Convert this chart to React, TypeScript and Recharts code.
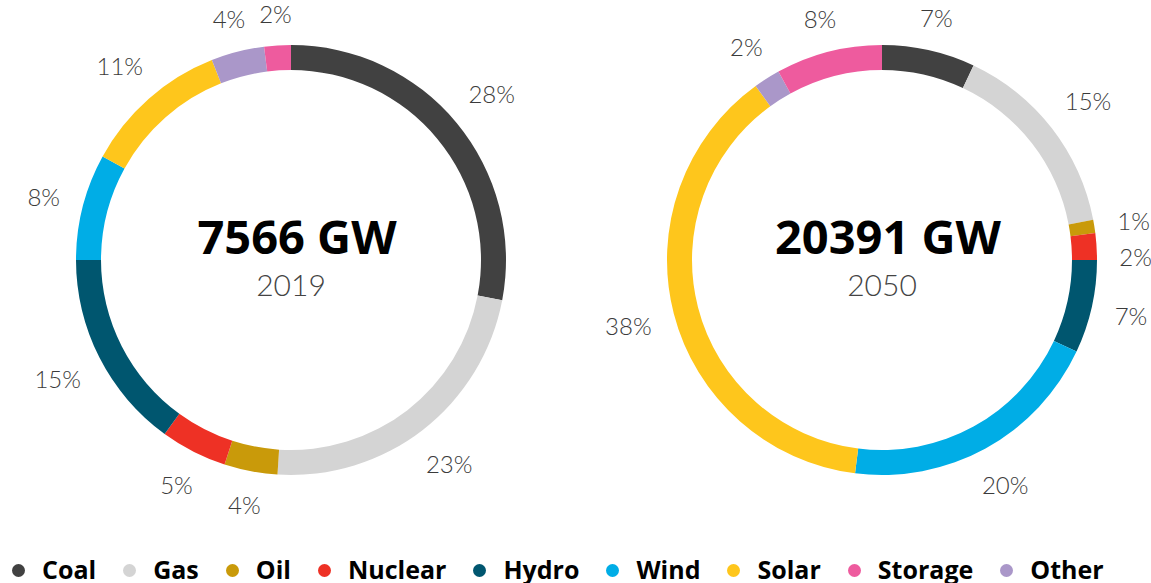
import { Pie, PieChart, Cell } from "recharts";

const sources = ["Coal", "Gas", "Oil", "Nuclear", "Hydro", "Wind", "Solar", "Other", "Storage"];
const legendOrder = ["Coal", "Gas", "Oil", "Nuclear", "Hydro", "Wind", "Solar", "Storage", "Other"];
const share2019 = [28, 23, 4, 5, 15, 8, 11, 4, 2];
const share2050 = [7, 15, 1, 2, 7, 20, 38, 2, 8];
const totals = [
  { capacity: "7566 GW", year: "2019" },
  { capacity: "20391 GW", year: "2050" }
];

const colors: Record<string, string> = {
  Coal: "#414141",
  Gas: "#d4d4d4",
  Oil: "#c99a0a",
  Nuclear: "#ee3125",
  Hydro: "#00566f",
  Wind: "#00ade6",
  Solar: "#fec61c",
  Storage: "#ee5b9e",
  Other: "#aa97c9"
};

const RAD = Math.PI / 180;
const W = 1151;
const H = 583;
const CY = 260;
const OUTER = 215;
const INNER = 190;
const LABEL_GAP = 22;
const LABEL_SIZE = 24;
const MIN_SEP = 36;

const toRows = (values: number[]) => sources.map((name, i) => ({ name, value: values[i] }));

// label offsets from the pie centre, pushed apart when two small slices sit side by side
function labelOffsets(values: number[]) {
  const total = values.reduce((a, b) => a + b, 0);
  let acc = 0;
  const pts = values.map((v) => {
    const mid = 90 - ((acc + v / 2) / total) * 360;
    acc += v;
    const c = Math.cos(mid * RAD);
    const s = -Math.sin(mid * RAD);
    const text = `${v}%`;
    const halfW = ((text.length - 1) * 0.57 + 0.82) * LABEL_SIZE / 2;
    const r = OUTER + LABEL_GAP + Math.abs(c) * halfW + Math.abs(s) * 8.5;
    return { dx: r * c, dy: r * s, text, halfW };
  });
  for (let i = 1; i < pts.length; i++) {
    const a = pts[i - 1];
    const b = pts[i];
    if (Math.abs(a.dx - b.dx) < a.halfW + b.halfW && Math.abs(a.dy - b.dy) < MIN_SEP) {
      b.dy = a.dy + (b.dx > 0 ? MIN_SEP : -MIN_SEP);
    }
  }
  return pts;
}

function makeLabel(values: number[]) {
  const pts = labelOffsets(values);
  return (props: any) => {
    const { cx, cy, index } = props;
    const p = pts[index];
    return (
      <text
        x={cx + p.dx}
        y={cy + p.dy}
        textAnchor="middle"
        dominantBaseline="central"
        fill="#3b3b3b"
        fontFamily="Lato, sans-serif"
        fontWeight={300}
        fontSize={LABEL_SIZE}
      >
        {p.text}
      </text>
    );
  };
}

export default function App() {
  const pies = [
    { cx: 291, values: share2019, ...totals[0] },
    { cx: 882, values: share2050, ...totals[1] }
  ];

  return (
    <div style={{ position: "absolute", left: 0, top: 0, width: W, height: H, background: "#fff", overflow: "hidden" }}>
      <PieChart width={W} height={H} margin={{ top: 0, right: 0, bottom: 0, left: 0 }}>
        {pies.map((p) => {
          const rows = toRows(p.values);
          return (
            <Pie
              key={p.year}
              data={rows}
              dataKey="value"
              nameKey="name"
              cx={p.cx}
              cy={CY}
              innerRadius={INNER}
              outerRadius={OUTER}
              startAngle={90}
              endAngle={-270}
              stroke="none"
              label={makeLabel(p.values)}
              labelLine={false}
              isAnimationActive={false}
            >
              {rows.map((row) => (
                <Cell key={row.name} fill={colors[row.name]} />
              ))}
            </Pie>
          );
        })}
        {pies.map((p) => (
          <g key={`c-${p.year}`}>
            <text x={p.cx + 6} y={254} textAnchor="middle" fontFamily="'Open Sans', sans-serif" fontWeight={700} fontSize={47} fill="#000">
              {p.capacity}
            </text>
            <text x={p.cx} y={296} textAnchor="middle" fontFamily="Lato, sans-serif" fontWeight={300} fontSize={30} fill="#444">
              {p.year}
            </text>
          </g>
        ))}
      </PieChart>
      <div
        style={{
          position: "absolute",
          left: 12,
          top: 552,
          display: "flex",
          alignItems: "center",
          fontFamily: "'Open Sans', sans-serif",
          fontWeight: 700,
          fontSize: 25,
          lineHeight: "34px",
          color: "#000",
          whiteSpace: "nowrap"
        }}
      >
        {legendOrder.map((name) => (
          <div key={name} style={{ display: "flex", alignItems: "center", marginRight: 27 }}>
            <span style={{ width: 13, height: 13, borderRadius: "50%", background: colors[name], marginRight: 17, marginTop: 3 }} />
            <span>{name}</span>
          </div>
        ))}
      </div>
    </div>
  );
}
